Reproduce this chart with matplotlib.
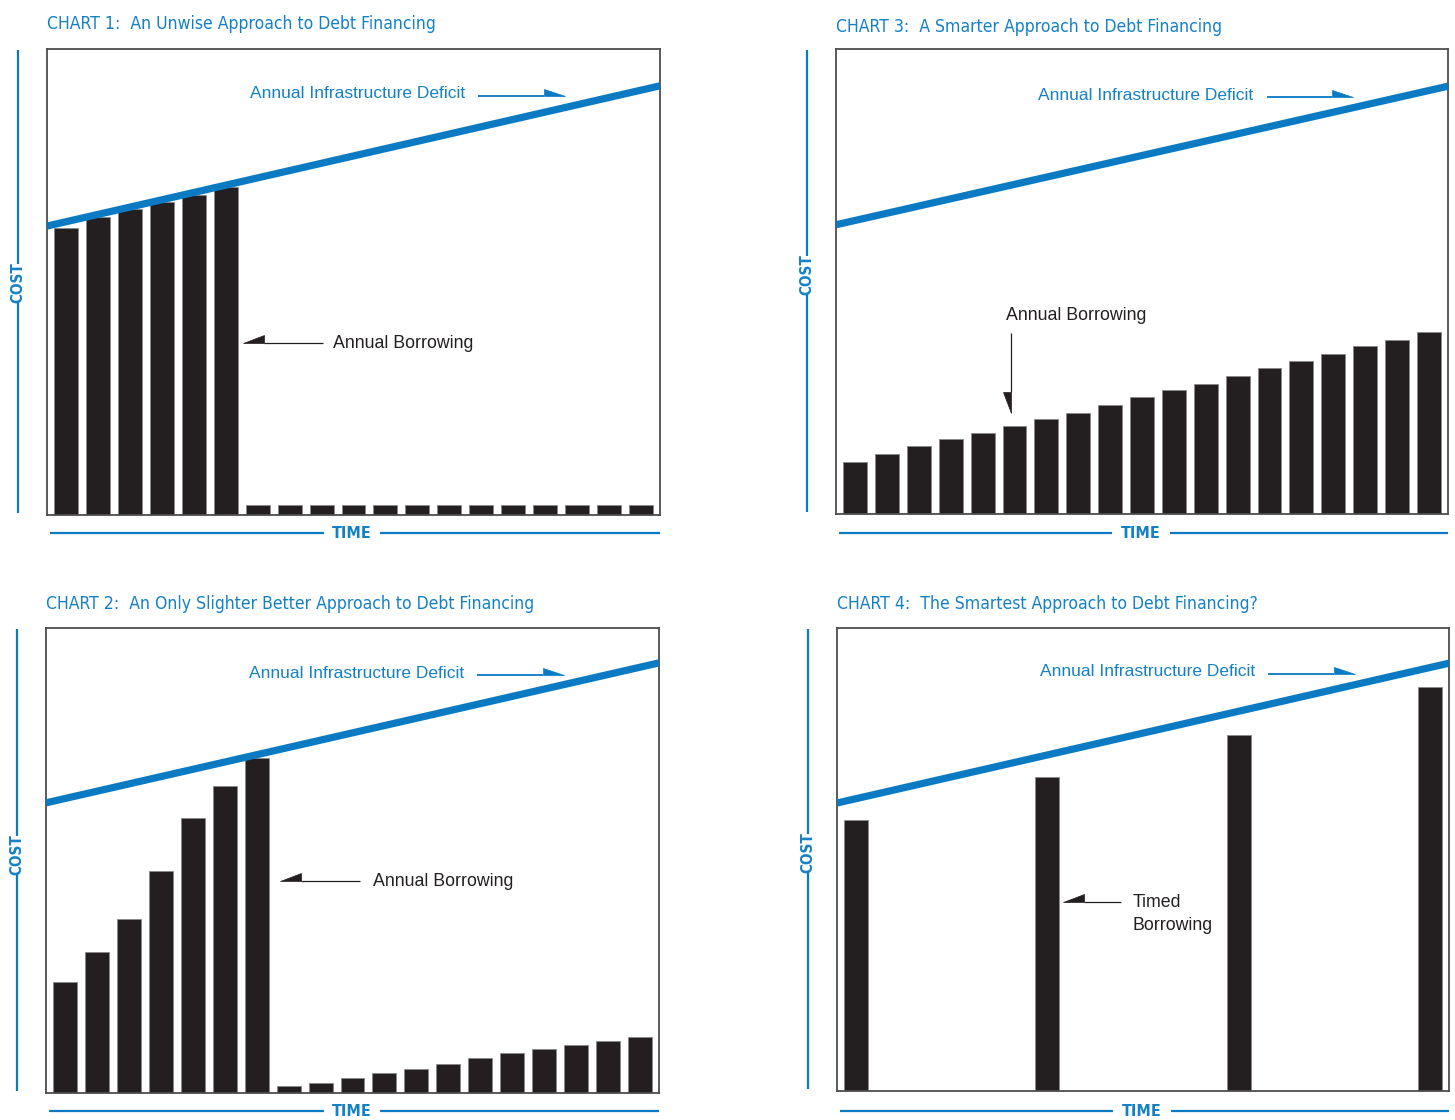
import math
import matplotlib
matplotlib.use("Agg")
import matplotlib.pyplot as plt
from matplotlib.lines import Line2D
from matplotlib.patches import Polygon

# ---- data (cost as % of panel height, time slots 0..18) ----
time_slots = list(range(19))

chart1_borrowing = [61.6, 63.9, 65.7, 67.2, 68.7, 70.4,
                    2.1, 2.1, 2.1, 2.1, 2.1, 2.1, 2.1, 2.1, 2.1, 2.1, 2.1, 2.1, 2.1]
chart2_borrowing = [23.9, 30.3, 37.5, 47.8, 59.1, 66.0, 72.0,
                    1.4, 2.2, 3.2, 4.2, 5.2, 6.2, 7.5, 8.6, 9.5, 10.3, 11.2, 12.0]
chart3_borrowing = [11.2, 12.8, 14.6, 16.1, 17.4, 18.9, 20.4, 21.8, 23.5, 25.1,
                    26.6, 28.0, 29.6, 31.3, 32.9, 34.4, 36.1, 37.4, 39.1]
chart4_slots = [0, 6, 12, 18]
chart4_borrowing = [58.5, 67.8, 76.8, 87.2]

time_range = [-0.6, 18.6]
deficit_1 = [62.0, 92.1]
deficit_2 = [62.4, 92.5]
deficit_3 = [62.2, 92.0]
deficit_4 = [62.2, 92.4]

titles = [
    "CHART 1:  An Unwise Approach to Debt Financing",
    "CHART 2:  An Only Slighter Better Approach to Debt Financing",
    "CHART 3:  A Smarter Approach to Debt Financing",
    "CHART 4:  The Smartest Approach to Debt Financing?",
]
deficit_label = "Annual Infrastructure Deficit"
borrow_label = "Annual Borrowing"
timed_label = "Timed\nBorrowing"
x_label = "TIME"
y_label = "COST"

# ---- style ----
W, H, DPI = 1455, 1120, 100
BLUE = "#0a7ac2"
BLUE_TEXT = "#1581c5"
INK = "#231f20"
SANS = ["Liberation Sans", "DejaVu Sans"]
COND = dict(family="DejaVu Sans", fontstretch="condensed")

fig = plt.figure(figsize=(W / DPI, H / DPI), dpi=DPI)
fig.patch.set_facecolor("white")


def fx(x):
    return x / W


def fy(y):
    return 1 - y / H


def fig_line(x0, y0, x1, y1, color, lw):
    fig.add_artist(Line2D([fx(x0), fx(x1)], [fy(y0), fy(y1)],
                          transform=fig.transFigure, color=color, lw=lw,
                          solid_capstyle="butt"))


def half_arrow(tail, tip, side, color, lw, head_len=21, head_w=8):
    (x0, y0), (x1, y1) = tail, tip
    L = math.hypot(x1 - x0, y1 - y0)
    ux, uy = (x1 - x0) / L, (y1 - y0) / L
    bx, by = x1 - ux * head_len, y1 - uy * head_len
    fig_line(x0, y0, bx, by, color, lw)
    nx, ny = side
    pts = [(x1, y1), (bx, by), (bx + nx * head_w, by + ny * head_w)]
    fig.add_artist(Polygon([(fx(a), fy(b)) for a, b in pts], closed=True,
                           transform=fig.transFigure, facecolor=color,
                           edgecolor=color, lw=0.5))


def panel(box, slots, values, deficit, title, title_y, cost_y, cost_gap, time_x, time_gap, time_y):
    left, top, right, bottom = box
    ax = fig.add_axes([fx(left), fy(bottom), (right - left) / W, (bottom - top) / H])
    ax.bar(slots, values, width=0.75, color=INK, edgecolor="#8a8a8a", linewidth=0.6, zorder=2)
    ax.plot(time_range, deficit, color=BLUE, lw=5.2, solid_capstyle="butt", zorder=3)
    ax.set_xlim(time_range)
    ax.set_ylim(0, 100)
    ax.set_xticks([])
    ax.set_yticks([])
    for s in ax.spines.values():
        s.set_color("#4d4d4d")
        s.set_linewidth(1.3)

    fig.text(fx(left), fy(title_y), title, ha="left", va="center",
             fontsize=12.6, color=BLUE_TEXT, weight="medium", **COND)

    # COST axis marker
    cx = left - 29
    fig_line(cx, top + 1, cx, cost_y - cost_gap, BLUE, 1.6)
    fig_line(cx, cost_y + cost_gap, cx, bottom - 2, BLUE, 1.6)
    fig.text(fx(cx), fy(cost_y), y_label, rotation=90, ha="center", va="center",
             fontsize=11, color=BLUE_TEXT, weight="bold", **COND)

    # TIME axis marker
    fig_line(left + 3, time_y, time_x - time_gap, time_y, BLUE, 1.6)
    fig_line(time_x + time_gap, time_y, right, time_y, BLUE, 1.6)
    fig.text(fx(time_x), fy(time_y), x_label, ha="center", va="center",
             fontsize=11.5, color=BLUE_TEXT, weight="bold", **COND)
    return ax


panel((47, 49, 660, 515), time_slots, chart1_borrowing, deficit_1, titles[0],
      24, 283, 19, 352, 28, 533)
panel((46, 628, 659, 1093), time_slots, chart2_borrowing, deficit_2, titles[1],
      604, 855, 19, 352, 28, 1111)
panel((836, 49, 1448, 514), time_slots, chart3_borrowing, deficit_3, titles[2],
      27, 275, 19, 1141, 29, 533)
panel((837, 628, 1449, 1091), chart4_slots, chart4_borrowing, deficit_4, titles[3],
      604, 853, 19, 1142, 29, 1111)

# deficit annotations
for (tx, ty, a0, a1) in [(250, 94, 478, 565), (249, 673, 477, 564),
                         (1038, 95, 1267, 1353), (1040, 672, 1268, 1355)]:
    fig.text(fx(tx), fy(ty), deficit_label, ha="left", va="center",
             fontsize=12.5, color=BLUE_TEXT, family=SANS)
    half_arrow((a0, ty + 2), (a1, ty + 2), (0, -1), BLUE, 1.3, head_len=21, head_w=7)

# borrowing annotations
fig.text(fx(333), fy(344), borrow_label, ha="left", va="center",
         fontsize=12.8, color=INK, family=SANS)
half_arrow((323, 343), (243, 343), (0, -1), INK, 0.9)

fig.text(fx(373), fy(882), borrow_label, ha="left", va="center",
         fontsize=12.8, color=INK, family=SANS)
half_arrow((360, 881), (280, 881), (0, -1), INK, 0.9)

fig.text(fx(1006), fy(315), borrow_label, ha="left", va="center",
         fontsize=12.8, color=INK, family=SANS)
half_arrow((1011, 333), (1011, 413), (-1, 0), INK, 0.9)

fig.text(fx(1133), fy(914), timed_label, ha="left", va="center",
         fontsize=12.8, color=INK, family=SANS, linespacing=1.45)
half_arrow((1121, 902), (1063, 902), (0, -1), INK, 0.9)

fig.savefig("out.png", dpi=DPI, facecolor="white")
